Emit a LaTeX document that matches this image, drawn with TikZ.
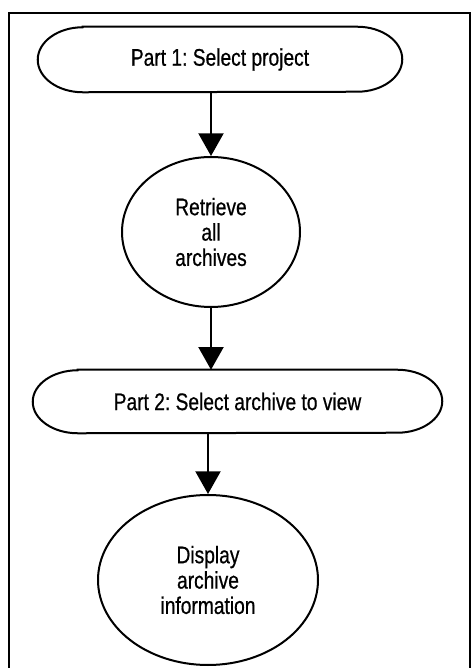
\documentclass[tikz,border=0pt]{standalone}
\usepackage{fontspec}
\setmainfont[FakeStretch=0.8,FakeBold=0.6]{Liberation Sans}
\usetikzlibrary{arrows.meta,shapes.geometric}
\begin{document}
\frenchspacing
\begin{tikzpicture}[x=0.75pt,y=0.75pt,
  lbl/.style={font=\fontsize{18pt}{19pt}\selectfont, align=center, inner sep=0pt},
  oval/.style={lbl, ellipse, draw, line width=1.5pt},
  pill/.style={lbl, rectangle, draw=none},
  arr/.style={line width=1.5pt, -{Triangle[width=18.75pt,length=17pt]}},
  frame/.style={line width=1.2pt}]
\useasboundingbox (0,0) rectangle (472,668);
\fill[white] (0,0) rectangle (472,668);
% frame (open at the bottom)
\coordinate (fbl) at (9,0);
\coordinate (ftl) at (9,655);
\coordinate (ftr) at (470,655);
\coordinate (fbr) at (470,0);
\draw[frame] (fbl) -- (ftl) -- (ftr) -- (fbr);
% nodes
\node[pill, minimum width=273pt, minimum height=48.75pt] (p1) at (220,608.5) {Part 1: Select project};
\node[oval, minimum width=133.5pt, minimum height=112.5pt] (c1) at (211,436) {Retrieve\\all\\archives};
\node[pill, minimum width=306.75pt, minimum height=47.25pt] (p2) at (237.5,266.5) {Part 2: Select archive to view};
\node[oval, minimum width=165pt, minimum height=127.5pt] (e2) at (208,88) {Display\\archive\\information};
% pill outlines with elliptical ends
\draw[line width=1.5pt] ([xshift=33.75pt]p1.north west) -- ([xshift=-33.75pt]p1.north east)
  arc[start angle=90, end angle=-90, x radius=33.75pt, y radius=24.375pt]
  -- ([xshift=33.75pt]p1.south west)
  arc[start angle=270, end angle=90, x radius=33.75pt, y radius=24.375pt] -- cycle;
\draw[line width=1.5pt] ([xshift=33.75pt]p2.north west) -- ([xshift=-33.75pt]p2.north east)
  arc[start angle=90, end angle=-90, x radius=33.75pt, y radius=23.625pt]
  -- ([xshift=33.75pt]p2.south west)
  arc[start angle=270, end angle=90, x radius=33.75pt, y radius=23.625pt] -- cycle;
% connectors
\draw[arr] (p1.south -| c1.north) -- (c1.north);
\draw[arr] (c1.south) -- (p2.north -| c1.south);
\draw[arr] (p2.south -| e2.north) -- (e2.north);
\end{tikzpicture}
\end{document}
